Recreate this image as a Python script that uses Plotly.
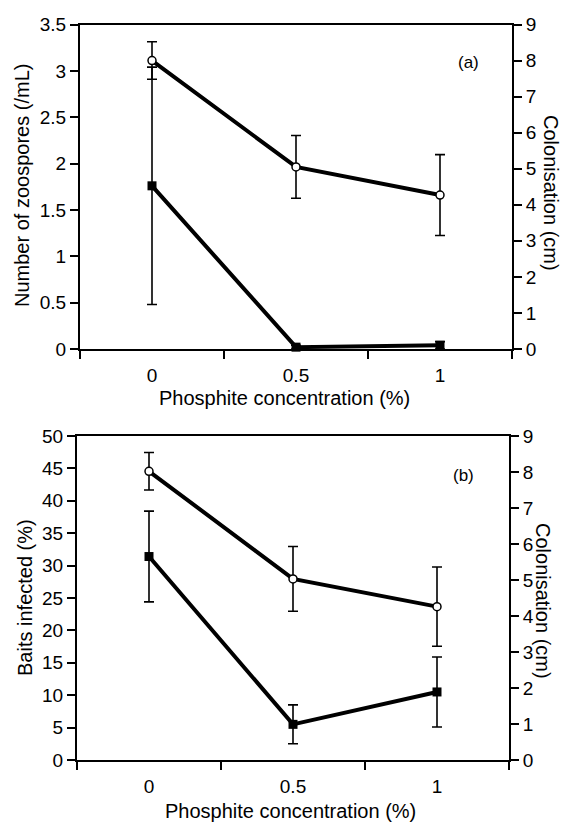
import plotly.graph_objects as go

# ---- data ----
phosphite = [0, 0.5, 1]

# panel (a)
zoospores = [1.76, 0.02, 0.04]
zoospores_err = [1.28, 0.02, 0.04]
colonisation_a = [8.0, 5.05, 4.27]
colonisation_a_err = [0.52, 0.87, 1.12]

# panel (b)
baits_infected = [31.4, 5.5, 10.5]
baits_infected_err = [7.0, 3.0, 5.4]
colonisation_b = [8.02, 5.03, 4.26]
colonisation_b_err = [0.52, 0.9, 1.1]

x_tick_vals = [0, 0.5, 1]
x_tick_text = ["0", "0.5", "1"]
x_minor_ticks = [-0.25, 0.25, 0.75, 1.25]

FONT = "Liberation Sans, Arial, sans-serif"
W, H = 564, 823

fig = go.Figure()


def square_trace(y, err, xa, ya):
    return go.Scatter(
        x=phosphite, y=y, xaxis=xa, yaxis=ya, mode="lines+markers",
        line=dict(color="black", width=4),
        marker=dict(symbol="square", size=9, color="black"),
        error_y=dict(type="data", array=err, visible=True, color="black",
                     thickness=1.6, width=5),
        showlegend=False, cliponaxis=False,
    )


def circle_trace(y, err, xa, ya):
    return go.Scatter(
        x=phosphite, y=y, xaxis=xa, yaxis=ya, mode="lines+markers",
        line=dict(color="black", width=4),
        marker=dict(symbol="circle", size=8, color="white",
                    line=dict(color="black", width=1.5)),
        error_y=dict(type="data", array=err, visible=True, color="black",
                     thickness=1.6, width=5),
        showlegend=False, cliponaxis=False,
    )


fig.add_trace(square_trace(zoospores, zoospores_err, "x", "y"))
fig.add_trace(circle_trace(colonisation_a, colonisation_a_err, "x", "y2"))
fig.add_trace(square_trace(baits_infected, baits_infected_err, "x2", "y3"))
fig.add_trace(circle_trace(colonisation_b, colonisation_b_err, "x2", "y4"))

tickfont = dict(family=FONT, size=19, color="black")

xcommon = dict(
    range=[-0.25, 1.25], showline=True, linecolor="black", linewidth=2,
    mirror=True, tickvals=x_tick_vals, ticktext=x_tick_text, ticks="",
    ticklabelstandoff=8,
    tickfont=tickfont, showgrid=False, zeroline=False, automargin=False,
    minor=dict(tickvals=x_minor_ticks, ticks="outside", ticklen=8,
               tickwidth=1.5, tickcolor="black", showgrid=False),
    fixedrange=True,
)
ycommon = dict(
    showline=True, linecolor="black", linewidth=2, ticks="outside",
    ticklen=8, tickwidth=1.5, tickcolor="black", tickfont=tickfont,
    showgrid=False, zeroline=False, automargin=False, fixedrange=True,
)

xa_dom = [80 / W, 512 / W]
xb_dom = [77 / W, 509 / W]
ya_dom = [1 - 349 / H, 1 - 24.5 / H]
yb_dom = [1 - 760 / H, 1 - 436 / H]

fig.update_layout(
    width=W, height=H, template="none",
    paper_bgcolor="white", plot_bgcolor="white",
    margin=dict(l=0, r=0, t=0, b=0),
    font=dict(family=FONT, size=19, color="black"),
    xaxis=dict(domain=xa_dom, anchor="y", **xcommon),
    yaxis=dict(domain=ya_dom, anchor="x", range=[0, 3.5], dtick=0.5, side="left", **ycommon),
    yaxis2=dict(anchor="x", overlaying="y", side="right", range=[0, 9], dtick=1, **ycommon),
    xaxis2=dict(domain=xb_dom, anchor="y3", **xcommon),
    yaxis3=dict(domain=yb_dom, anchor="x2", range=[0, 50], dtick=5, side="left", **ycommon),
    yaxis4=dict(anchor="x2", overlaying="y3", side="right", range=[0, 9], dtick=1, **ycommon),
)


def ann(text, px, py, angle=0, size=20):
    fig.add_annotation(
        text=text, x=px / W, y=1 - py / H, xref="paper", yref="paper",
        showarrow=False, textangle=angle, xanchor="center", yanchor="middle",
        font=dict(family=FONT, size=size, color="black"),
    )


ann("Number of zoospores (/mL)", 22, 186, -90)
ann("Colonisation (cm)", 551, 193, 90)
ann("Phosphite concentration (%)", 284, 398)
ann("(a)", 468, 62, 0, 17)

ann("Baits infected (%)", 25, 598, -90)
ann("Colonisation (cm)", 543, 601, 90)
ann("Phosphite concentration (%)", 290, 811)
ann("(b)", 463, 475, 0, 17)

fig.write_html(
    "out.html",
    config={"displayModeBar": False},
    post_script="document.body.style.margin='0';document.body.style.overflow='hidden';",
)
